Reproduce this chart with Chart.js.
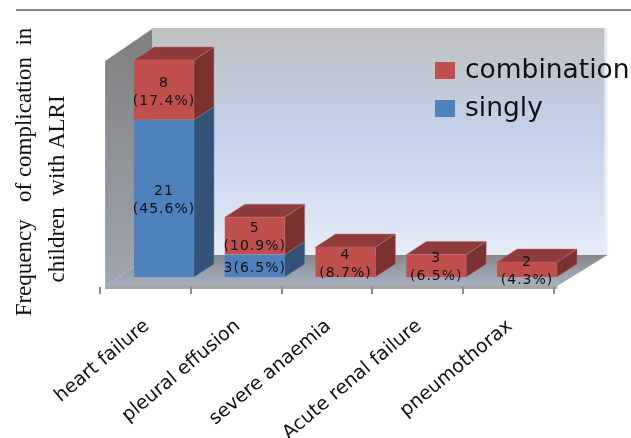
<!DOCTYPE html>
<html lang="en">
<head>
  <meta charset="UTF-8">
  <title>Frequency of complication in children with ALRI</title>
  <script src="https://cdn.jsdelivr.net/npm/chart.js"></script>
  <style>
    html, body { margin: 0; padding: 0; background: #fff; overflow: hidden; }
    canvas { display: block; }
  </style>
</head>
<body>
  <canvas id="chart" width="631" height="438"></canvas>

  <script>
    const categories = ['heart failure', 'pleural effusion', 'severe anaemia', 'Acute renal failure', 'pneumothorax'];
    const singly = [21, 3, 0, 0, 0];
    const combination = [8, 5, 4, 3, 2];
    const singlyLabels = [['21', '(45.6%)'], ['3(6.5%)'], [], [], []];
    const combinationLabels = [['8', '(17.4%)'], ['5', '(10.9%)'], ['4', '(8.7%)'], ['3', '(6.5%)'], ['2', '(4.3%)']];
    const yTitle = ['Frequency   of complication  in', 'children  with ALRI'];

    const DX = 20, DY = -13;           // depth of the 3d bars
    const RED = '#c0504d', BLUE = '#4f81bd';

    function poly(ctx, pts, fill, edge) {
      ctx.beginPath();
      pts.forEach((p, i) => i ? ctx.lineTo(p[0], p[1]) : ctx.moveTo(p[0], p[1]));
      ctx.closePath();
      ctx.fillStyle = fill;
      ctx.fill();
      if (edge) {
        ctx.strokeStyle = edge;
        ctx.lineWidth = 1;
        ctx.stroke();
      }
    }

    const backdrop = {
      id: 'backdrop',
      beforeDatasetsDraw(chart) {
        const ctx = chart.ctx;
        const a = chart.chartArea;
        const step = (a.right - a.left) / categories.length;
        const left = a.left - 13.5, right = a.right - 15;
        const floorY = a.bottom + 9;
        const wallTop = a.top - 32, wallBottom = a.bottom - 22;
        const backL = left + 47, backR = right + 47;

        ctx.save();
        ctx.fillStyle = '#888888';
        ctx.fillRect(16, 9, 615, 2);

        // back wall
        ctx.fillStyle = '#e9edf6';
        ctx.fillRect(backL, wallTop, backR - backL + 3, wallBottom - wallTop);
        let g = ctx.createLinearGradient(0, wallTop, 0, wallBottom);
        g.addColorStop(0, '#c0c0c0');
        g.addColorStop(0.45, '#c3d0e8');
        g.addColorStop(1, '#e6ecf7');
        ctx.fillStyle = g;
        ctx.fillRect(backL, wallTop, backR - backL, wallBottom - wallTop);

        // side wall
        g = ctx.createLinearGradient(0, wallTop, 0, floorY);
        g.addColorStop(0, '#7f7f7f');
        g.addColorStop(1, '#a0a6b0');
        poly(ctx, [[left, a.top + 1], [backL, wallTop + 1], [backL, wallBottom], [left, floorY]], g);

        // floor
        g = ctx.createLinearGradient(0, wallBottom, 0, floorY);
        g.addColorStop(0, '#858585');
        g.addColorStop(0.25, '#8f949b');
        g.addColorStop(1, '#a9b1c1');
        poly(ctx, [[left, floorY], [backL, wallBottom], [backR + 3, wallBottom], [right, floorY]], g);

        // front edge and ticks
        ctx.fillStyle = '#a6a6a6';
        ctx.fillRect(left, floorY - 1, right - left, 4);
        ctx.fillStyle = '#8c8c8c';
        for (let i = 0; i <= categories.length; i++) {
          ctx.fillRect(Math.round(a.left - 18.6 + i * step) - 1, floorY + 1, 2, 7);
        }

        // sides and tops of the bars, from the library's own bar elements
        chart.data.datasets.forEach((ds, d) => {
          const dark = d === 0 ? '#335378' : '#7a3230';
          chart.getDatasetMeta(d).data.forEach((bar, i) => {
            if (!ds.data[i]) return;
            const r = bar.x + bar.width / 2, l = bar.x - bar.width / 2;
            poly(ctx, [[r, bar.y], [r + DX, bar.y + DY], [r + DX, bar.base + DY], [r, bar.base]], dark, d === 0 ? 'rgba(79,129,189,.5)' : 'rgba(192,120,120,.45)');
            if (d === 1) poly(ctx, [[l, bar.y], [r, bar.y], [r + DX, bar.y + DY], [l + DX, bar.y + DY]], '#8e3b39', 'rgba(192,120,120,.45)');
          });
        });
        ctx.restore();
      },
      afterDatasetsDraw(chart) {
        const ctx = chart.ctx;
        ctx.save();
        ctx.fillStyle = '#111';
        ctx.textAlign = 'center';
        ctx.textBaseline = 'middle';
        ctx.font = '14px "DejaVu Sans"';
        ctx.letterSpacing = '1px';
        [singlyLabels, combinationLabels].forEach((texts, d) => {
          chart.getDatasetMeta(d).data.forEach((bar, i) => {
            const lines = texts[i];
            const mid = (bar.y + bar.base) / 2;
            if (lines.length === 2) {
              ctx.fillText(lines[0], bar.x, mid - 7);
              ctx.fillText(lines[1], bar.x, mid + 11);
            } else if (lines.length === 1) {
              ctx.fillText(lines[0], bar.x, mid + 3);
            }
          });
        });
        ctx.letterSpacing = '0px';

        // legend, combination first
        ctx.textAlign = 'left';
        ctx.font = '26.5px "DejaVu Sans"';
        ctx.fillStyle = RED;
        ctx.fillRect(435, 62, 20, 17);
        ctx.fillStyle = BLUE;
        ctx.fillRect(435, 100, 20, 17);
        ctx.fillStyle = '#111';
        ctx.fillText(chart.data.datasets[1].label, 465, 71);
        ctx.fillText(chart.data.datasets[0].label, 465, 109);

        // y title
        ctx.font = '23px "Liberation Serif"';
        ctx.textAlign = 'center';
        ctx.translate(25, 172);
        ctx.rotate(-Math.PI / 2);
        ctx.fillText(yTitle[0], 0, 0);
        ctx.fillText(yTitle[1], -17, 33);
        ctx.restore();
      }
    };

    new Chart(document.getElementById('chart'), {
      type: 'bar',
      data: {
        labels: categories,
        datasets: [
          { label: 'singly', data: singly, backgroundColor: BLUE, stack: 's' },
          { label: 'combination', data: combination, backgroundColor: RED, stack: 's' }
        ]
      },
      options: {
        responsive: false,
        animation: false,
        devicePixelRatio: 1,
        layout: { padding: { left: 118.6, right: 58.6, top: 60, bottom: 0 } },
        datasets: { bar: { categoryPercentage: 1, barPercentage: 0.66 } },
        plugins: { legend: { display: false }, tooltip: { enabled: false } },
        scales: {
          x: {
            stacked: true,
            grid: { display: false },
            border: { display: false },
            afterFit(scale) { scale.height = 161; },
            ticks: {
              autoSkip: false,
              minRotation: 40,
              maxRotation: 40,
              padding: 30,
              labelOffset: -17,
              color: '#111',
              font: { family: '"DejaVu Sans"', size: 19 }
            }
          },
          y: { stacked: true, display: false, min: 0, max: 29 }
        }
      },
      plugins: [backdrop]
    });
  </script>
</body>
</html>
